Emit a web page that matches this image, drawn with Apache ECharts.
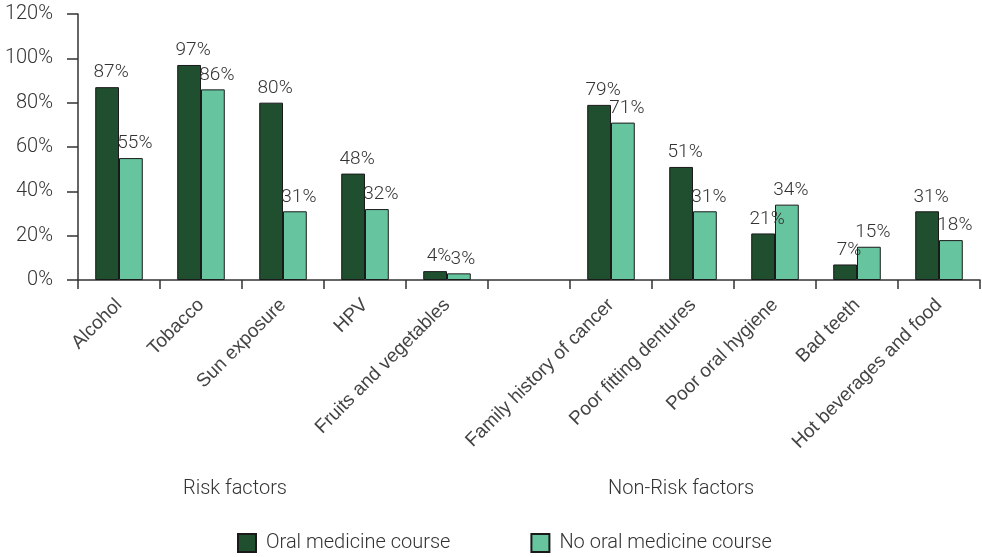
<!DOCTYPE html>
<html><head><meta charset="utf-8">
<script src="https://cdn.jsdelivr.net/npm/echarts@6/dist/echarts.min.js"></script>
<style>html,body{margin:0;padding:0;background:#fff}#c{width:982px;height:557px}</style>
</head><body><div id="c"></div>
<script>
const categories = ['Alcohol','Tobacco','Sun exposure','HPV','Fruits and vegetables','','Family history of cancer','Poor fitting dentures','Poor oral hygiene','Bad teeth','Hot beverages and food'];
const oralCourse = [87,97,80,48,4,null,79,51,21,7,31];
const noOralCourse = [55,86,31,32,3,null,71,31,34,15,18];
const yTicks = [0,20,40,60,80,100,120];
const groupLabels = ['Risk factors','Non-Risk factors'];
const seriesNames = ['Oral medicine course','No oral medicine course'];

const font = 'Roboto';
const chart = echarts.init(document.getElementById('c'), null, {renderer:'canvas'});
const lbl = {show:true, position:'top', distance:5, offset:[4,0], formatter: p => p.value + '%', color:'#333', fontFamily:font, fontWeight:300, fontSize:19};
chart.setOption({
  animation:false,
  textStyle:{fontFamily:font},
  grid:{left:78, right:2, top:14, bottom:277, containLabel:false},
  xAxis:{type:'category', data:categories,
    axisLine:{lineStyle:{color:'#333', width:1.5}},
    axisTick:{show:true, length:9, lineStyle:{color:'#333', width:1.5}},
    axisLabel:{rotate:45, interval:0, margin:22, color:'#444', fontFamily:'Liberation Sans', fontSize:19}
  },
  yAxis:{type:'value', min:yTicks[0], max:yTicks[yTicks.length-1], interval:20,
    axisLine:{show:true, lineStyle:{color:'#333', width:1.5}},
    axisTick:{show:true, length:11, lineStyle:{color:'#333', width:1.5}},
    splitLine:{show:false},
    axisLabel:{margin:25, formatter:'{value}%', color:'#333', fontFamily:font, fontWeight:300, fontSize:20}
  },
  legend:{top:533, left:237, padding:0, icon:'rect', itemWidth:18, itemHeight:18, itemGap:80,
    textStyle:{color:'#333', fontFamily:font, fontWeight:300, fontSize:20, padding:[0,0,0,5]},
    data:seriesNames},
  series:[
    {name:seriesNames[0], type:'bar', data:oralCourse, barGap:'0%', barCategoryGap:'42%',
     itemStyle:{color:'#1f4f2e', borderColor:'#1a1a1a', borderWidth:1}, label:lbl},
    {name:seriesNames[1], type:'bar', data:noOralCourse,
     itemStyle:{color:'#66c59f', borderColor:'#1a1a1a', borderWidth:1}, label:lbl}
  ],
  graphic:[
    {type:'text', left:183, top:479, style:{text:groupLabels[0], fill:'#333', font:'300 20px Roboto'}},
    {type:'text', left:608, top:479, style:{text:groupLabels[1], fill:'#333', font:'300 20px Roboto'}}
  ]
});
</script></body></html>
